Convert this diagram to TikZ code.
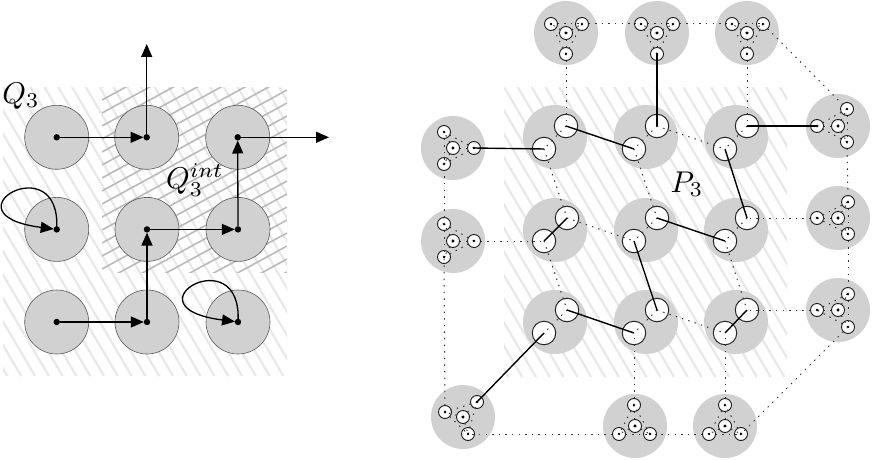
\documentclass[tikz,border=0pt]{standalone}
\usetikzlibrary{arrows.meta}
\tikzset{
  bigdisc/.style={circle,fill=black!18,draw=none,minimum size=64pt,inner sep=0pt,outer sep=0pt},
  qdisc/.style={circle,fill=black!18,draw=black!65,line width=0.6pt,minimum size=64pt,inner sep=0pt,outer sep=0pt},
  whitedisc/.style={circle,fill=white,draw=black!85,line width=1pt,minimum size=23.5pt,inner sep=0pt,outer sep=0pt},
  tinydisc/.style={circle,fill=white,draw=black!90,line width=0.9pt,minimum size=13pt,inner sep=0pt,outer sep=0pt},
  dotnode/.style={circle,fill=black,draw=none,minimum size=6.4pt,inner sep=0pt,outer sep=0pt},
  dotline/.style={line width=1pt,black!80,dash pattern=on 1.4pt off 5.2pt},
  solidline/.style={line width=1.4pt,black},
  arr/.style={line width=1.3pt,black,-{Triangle[length=13pt,width=11pt]}},
  lighthatch/.style={line width=2.2pt,black!9},
  darkhatch/.style={line width=1.6pt,black!27},
  label/.style={inner sep=0pt,scale=3}
}
% name, m.x, m.y, a.x, a.y, b.x, b.y, c.x, c.y
\newcommand{\smalls}[9]{%
  \node[tinydisc] (#1m) at (#2,#3) {};
  \node[tinydisc] (#1a) at (#4,#5) {};
  \node[tinydisc] (#1b) at (#6,#7) {};
  \node[tinydisc] (#1c) at (#8,#9) {};
}
\newcommand{\kfour}[1]{%
  \draw[dotline] (#1m.center) -- (#1a.center);
  \draw[dotline] (#1m.center) -- (#1b.center);
  \draw[dotline] (#1m.center) -- (#1c.center);
  \draw[dotline] (#1a.center) -- (#1b.center);
  \draw[dotline] (#1b.center) -- (#1c.center);
  \draw[dotline] (#1c.center) -- (#1a.center);
  \fill[black] (#1m.center) circle (1.7pt);
  \fill[black] (#1a.center) circle (1.4pt);
  \fill[black] (#1b.center) circle (1.4pt);
  \fill[black] (#1c.center) circle (1.4pt);
}
\begin{document}
\begin{tikzpicture}[x=1pt,y=-1pt]
\useasboundingbox (0,0) rectangle (872,460);
\fill[white] (0,0) rectangle (872,460);

% hatching, left
\begin{scope}
  \clip (3,87) rectangle (287,376);
  \foreach \i in {-24,...,24} {
    \draw[lighthatch] ({3+\i*13.8},87) -- ({3+\i*13.8+170},376);
  }
\end{scope}
\begin{scope}
  \clip (102,87) rectangle (287,272);
  \foreach \i in {0,...,36} {
    \draw[darkhatch] (102,{87+\i*13}) -- (287,{87+\i*13-101});
  }
\end{scope}
% hatching, right
\begin{scope}
  \clip (504,87) rectangle (787,377);
  \foreach \i in {-24,...,24} {
    \draw[lighthatch] ({504+\i*13.8},87) -- ({504+\i*13.8+170},377);
  }
\end{scope}

% left discs
\node[qdisc] (q11) at (56.7,137.3) {};
\node[qdisc] (q12) at (146.7,137.3) {};
\node[qdisc] (q13) at (237.7,137.3) {};
\node[qdisc] (q21) at (56.7,229.4) {};
\node[qdisc] (q22) at (147,229.4) {};
\node[qdisc] (q23) at (238,229.4) {};
\node[qdisc] (q31) at (56.7,322) {};
\node[qdisc] (q32) at (147,322) {};
\node[qdisc] (q33) at (238,322) {};

\node[dotnode] (d11) at (q11.center) {};
\node[dotnode] (d12) at (q12.center) {};
\node[dotnode] (d13) at (q13.center) {};
\node[dotnode] (d21) at (q21.center) {};
\node[dotnode] (d22) at (q22.center) {};
\node[dotnode] (d23) at (q23.center) {};
\node[dotnode] (d31) at (q31.center) {};
\node[dotnode] (d32) at (q32.center) {};
\node[dotnode] (d33) at (q33.center) {};

\coordinate (upend) at (146.7,44);
\coordinate (rightend) at (329,137.3);

\draw[arr] (d11) -- (d12);
\draw[arr] (d12) -- (upend);
\draw[arr] (d13) -- (rightend);
\draw[arr] (d23) -- (d13);
\draw[arr] (d22) -- (d23);
\draw[arr] (d32) -- (d22);
\draw[arr] (d31) -- (d32);
\draw[arr,shorten >=3pt] (d21.center) .. controls +(5,-85) and +(-116,-15) .. (d21.center);
\draw[arr,shorten >=3pt] (d33.center) .. controls +(5,-85) and +(-116,-15) .. (d33.center);

\node[label] (q3) at (21,96) {$Q_3$};
\node[label] (q3int) at (195,180) {$Q_3^{int}$};

% right: big discs
\foreach \x/\y in {555/137,646/137,736/137,555/230,646/230,736/230,555/322,646/322,736/322,
   566/33,657/33,747/33,838/126,838/218,838/310,453/148,453/241,463/417,635/426,725/426} {
  \node[bigdisc] at (\x,\y) {};
}

% white discs in the grid
\node[whitedisc] (a11) at (566,126) {}; \node[whitedisc] (b11) at (544,149) {};
\node[whitedisc] (a12) at (657,126) {}; \node[whitedisc] (b12) at (634,149) {};
\node[whitedisc] (a13) at (747,126) {}; \node[whitedisc] (b13) at (725,149) {};
\node[whitedisc] (a21) at (567,218) {}; \node[whitedisc] (b21) at (544,241) {};
\node[whitedisc] (a22) at (657,218) {}; \node[whitedisc] (b22) at (634,241) {};
\node[whitedisc] (a23) at (747,218) {}; \node[whitedisc] (b23) at (725,241) {};
\node[whitedisc] (a31) at (567,310) {}; \node[whitedisc] (b31) at (544,333) {};
\node[whitedisc] (a32) at (657,310) {}; \node[whitedisc] (b32) at (634,333) {};
\node[whitedisc] (a33) at (747,310) {}; \node[whitedisc] (b33) at (725,333) {};

% tiny discs in the outer ring
\smalls{tA}{566}{33}{551}{24}{582}{24}{566}{54}
\smalls{tB}{657}{33}{641}{24}{673}{24}{657}{54}
\smalls{tC}{747}{33}{732}{24}{763}{24}{747}{54}
\smalls{rA}{838}{126}{817}{126}{847}{109}{847}{142}
\smalls{rB}{838}{218}{817}{218}{848}{202}{848}{234}
\smalls{rC}{838}{310}{817}{310}{848}{294}{848}{327}
\smalls{lA}{453}{148}{474}{148}{444}{132}{444}{164}
\smalls{lB}{453}{241}{474}{241}{444}{224}{444}{257}
\smalls{bA}{463}{417}{477}{402}{445}{412}{468}{434}
\smalls{bB}{635}{426}{634}{405}{619}{434}{650}{434}
\smalls{bC}{725}{426}{725}{405}{709}{434}{741}{434}

\kfour{tA}\kfour{tB}\kfour{tC}\kfour{rA}\kfour{rB}\kfour{rC}\kfour{lA}\kfour{lB}\kfour{bA}\kfour{bB}\kfour{bC}

% dotted connectors, outer ring
\draw[dotline] (tAb.center) -- (tBa.center);
\draw[dotline] (tBb.center) -- (tCa.center);
\draw[dotline] (tCb.center) -- (rAb.center);
\draw[dotline] (rAc.center) -- (rBb.center);
\draw[dotline] (rBc.center) -- (rCb.center);
\draw[dotline] (rCc.center) -- (bCc.center);
\draw[dotline] (bCb.center) -- (bBc.center);
\draw[dotline] (bBb.center) -- (bAc.center);
\draw[dotline] (bAb.center) -- (lBc.center);
\draw[dotline] (lBb.center) -- (lAc.center);
% dotted connectors, ring to grid
\draw[dotline] (tAc.center) -- (a11.center);
\draw[dotline] (tCc.center) -- (a13.center);
\draw[dotline] (rBa.center) -- (a23.center);
\draw[dotline] (rCa.center) -- (a33.center);
\draw[dotline] (lBa.center) -- (b21.center);
\draw[dotline] (bBa.center) -- (b32.center);
\draw[dotline] (bCa.center) -- (b33.center);
% dotted connectors, grid
\draw[dotline] (a12.center) -- (b13.center);
\draw[dotline] (a21.center) -- (b22.center);
\draw[dotline] (a32.center) -- (b33.center);
\draw[dotline] (b11.center) -- (a21.center);
\draw[dotline] (b12.center) -- (a22.center);
\draw[dotline] (b21.center) -- (a31.center);
\draw[dotline] (b23.center) -- (a33.center);
\draw[dotline] (a11.center) -- (b11.center);
\draw[dotline] (a12.center) -- (b12.center);
\draw[dotline] (a13.center) -- (b13.center);
\draw[dotline] (a22.center) -- (b22.center);
\draw[dotline] (a23.center) -- (b23.center);
\draw[dotline] (a31.center) -- (b31.center);
\draw[dotline] (a32.center) -- (b32.center);

% solid connectors
\draw[solidline] (lAa.center) -- (b11.center);
\draw[solidline] (a11.center) -- (b12.center);
\draw[solidline] (a12.center) -- (tBc.center);
\draw[solidline] (a13.center) -- (rAa.center);
\draw[solidline] (b13.center) -- (a23.center);
\draw[solidline] (b21.center) -- (a21.center);
\draw[solidline] (b22.center) -- (a32.center);
\draw[solidline] (a22.center) -- (b23.center);
\draw[solidline] (a31.center) -- (b32.center);
\draw[solidline] (a33.center) -- (b33.center);
\draw[solidline] (b31.center) -- (bAa.center);

\node[label] (p3) at (687,184) {$P_3$};
\end{tikzpicture}
\end{document}
